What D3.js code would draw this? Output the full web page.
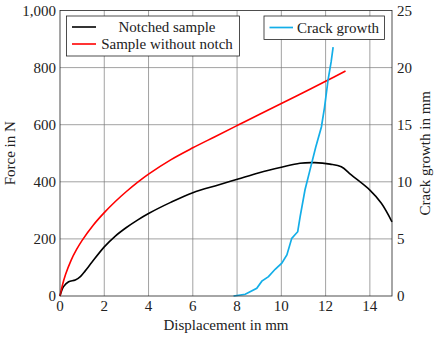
<!DOCTYPE html>
<html>
<head>
<meta charset="utf-8">
<script src="https://cdn.jsdelivr.net/npm/d3@7"></script>
<style>
  body { margin: 0; background: #fff; }
</style>
</head>
<body>
<svg id="chart" width="437" height="337"></svg>
<script>
// Notched sample: displacement (mm) vs force (N)
const notchedX = [0, 0.16, 0.39, 0.69, 0.92, 1.14, 1.44, 2.0, 2.5, 3.0, 3.5, 4.0, 5.0, 6.0, 7.15, 8.05, 9.0, 10.0, 10.84, 11.51, 12.2, 12.71, 13.16, 14.0, 14.52, 15.0];
const notchedF = [0, 33, 50, 56, 68, 88, 118, 172, 210, 240, 266, 289, 328, 362, 389, 410, 432, 451, 465, 467, 462, 453, 424, 371, 325, 260];

// Sample without notch
const plainX = [0, 0.1, 0.25, 0.5, 0.75, 1, 1.5, 2, 2.5, 3, 3.5, 4, 5, 6, 7, 8, 9, 10, 11, 12, 12.9];
const plainF = [0, 35, 75, 125, 163, 195, 248, 292, 331, 366, 398, 427, 477, 519, 558, 597, 636, 674, 713, 752, 788];

// Crack growth (mm) vs displacement (mm), right axis
const crackX = [7.84, 8.37, 8.89, 9.12, 9.42, 9.72, 10.02, 10.25, 10.47, 10.74, 10.85, 11.07, 11.29, 11.55, 11.81, 11.95, 12.11, 12.25, 12.34];
const crackC = [0, 0.15, 0.67, 1.3, 1.7, 2.34, 2.87, 3.6, 5.05, 5.63, 6.95, 9.3, 11.0, 13.0, 14.8, 16.5, 18.9, 20.5, 21.8];

const xTicks = [0, 2, 4, 6, 8, 10, 12, 14];
const forceTicks = [0, 200, 400, 600, 800, 1000];
const crackTicks = [0, 5, 10, 15, 20, 25];

const svg = d3.select("#chart");
const mLeft = 60, mRight = 392, mTop = 10.5, mBottom = 296;
const font = "Liberation Serif";

const x = d3.scaleLinear().domain([0, 15]).range([mLeft, mRight]);
const yF = d3.scaleLinear().domain([0, 1000]).range([mBottom, mTop]);
const yC = d3.scaleLinear().domain([0, 25]).range([mBottom, mTop]);

// Grid
const grid = svg.append("g").attr("stroke", "#7a7a7a").attr("stroke-width", 0.7);
grid.selectAll(".gx").data(xTicks.slice(1)).enter().append("line")
  .attr("x1", d => x(d)).attr("x2", d => x(d)).attr("y1", mTop).attr("y2", mBottom);
grid.selectAll(".gy").data(forceTicks.slice(1, -1)).enter().append("line")
  .attr("x1", mLeft).attr("x2", mRight).attr("y1", d => yF(d)).attr("y2", d => yF(d));

// Curves
const line = (xs, ys, yScale) => d3.line().x(i => x(xs[i])).y(i => yScale(ys[i])).curve(d3.curveCatmullRom.alpha(0.5))(d3.range(xs.length));

svg.append("path").attr("d", line(notchedX, notchedF, yF))
  .attr("fill", "none").attr("stroke", "#000").attr("stroke-width", 1.6);
svg.append("path").attr("d", line(plainX, plainF, yF))
  .attr("fill", "none").attr("stroke", "#ff0000").attr("stroke-width", 1.6);
svg.append("path")
  .attr("d", d3.line().x(i => x(crackX[i])).y(i => yC(crackC[i]))(d3.range(crackX.length)))
  .attr("fill", "none").attr("stroke", "#13aee8").attr("stroke-width", 1.7);

// Frame
svg.append("rect").attr("x", mLeft).attr("y", mTop).attr("width", mRight - mLeft).attr("height", mBottom - mTop)
  .attr("fill", "none").attr("stroke", "#222").attr("stroke-width", 0.8);

// Tick labels
const fs = "15px";
const label = sel => sel.attr("font-family", font).attr("font-size", fs).attr("fill", "#222");
svg.selectAll(".xt").data(xTicks).enter().append("text")
  .attr("x", d => x(d)).attr("y", mBottom + 15).attr("text-anchor", "middle")
  .call(label).text(d => d);
svg.selectAll(".yl").data(forceTicks).enter().append("text")
  .attr("x", mLeft - 4).attr("y", d => yF(d) + 5).attr("text-anchor", "end")
  .call(label).text(d => d3.format(",")(d));
svg.selectAll(".yr").data(crackTicks).enter().append("text")
  .attr("x", mRight + 5).attr("y", d => yC(d) + 5).attr("text-anchor", "start")
  .call(label).text(d => d);

// Axis titles
svg.append("text").attr("x", (mLeft + mRight) / 2).attr("y", 330).attr("text-anchor", "middle")
  .call(label).text("Displacement in mm");
svg.append("text").attr("transform", `translate(15,${(mTop + mBottom) / 2}) rotate(-90)`)
  .attr("text-anchor", "middle").call(label).text("Force in N");
svg.append("text").attr("transform", `translate(430,${(mTop + mBottom) / 2}) rotate(-90)`)
  .attr("text-anchor", "middle").call(label).text("Crack growth in mm");

// Legend 1
const lg1 = svg.append("g");
lg1.append("rect").attr("x", 66.5).attr("y", 16).attr("width", 173).attr("height", 40)
  .attr("fill", "#fff").attr("stroke", "#222").attr("stroke-width", 0.8);
[["Notched sample", "#000", 27], ["Sample without notch", "#ff0000", 44]].forEach(([t, c, yy]) => {
  lg1.append("line").attr("x1", 72).attr("x2", 96).attr("y1", yy).attr("y2", yy)
    .attr("stroke", c).attr("stroke-width", 1.6);
  lg1.append("text").attr("x", 167).attr("y", yy + 5).attr("text-anchor", "middle")
    .call(label).text(t);
});

// Legend 2
const lg2 = svg.append("g");
lg2.append("rect").attr("x", 264).attr("y", 16).attr("width", 120.5).attr("height", 23.5)
  .attr("fill", "#fff").attr("stroke", "#222").attr("stroke-width", 0.8);
lg2.append("line").attr("x1", 269.5).attr("x2", 293).attr("y1", 27.5).attr("y2", 27.5)
  .attr("stroke", "#13aee8").attr("stroke-width", 1.7);
lg2.append("text").attr("x", 297).attr("y", 32.5).call(label).text("Crack growth");
</script>
</body>
</html>
